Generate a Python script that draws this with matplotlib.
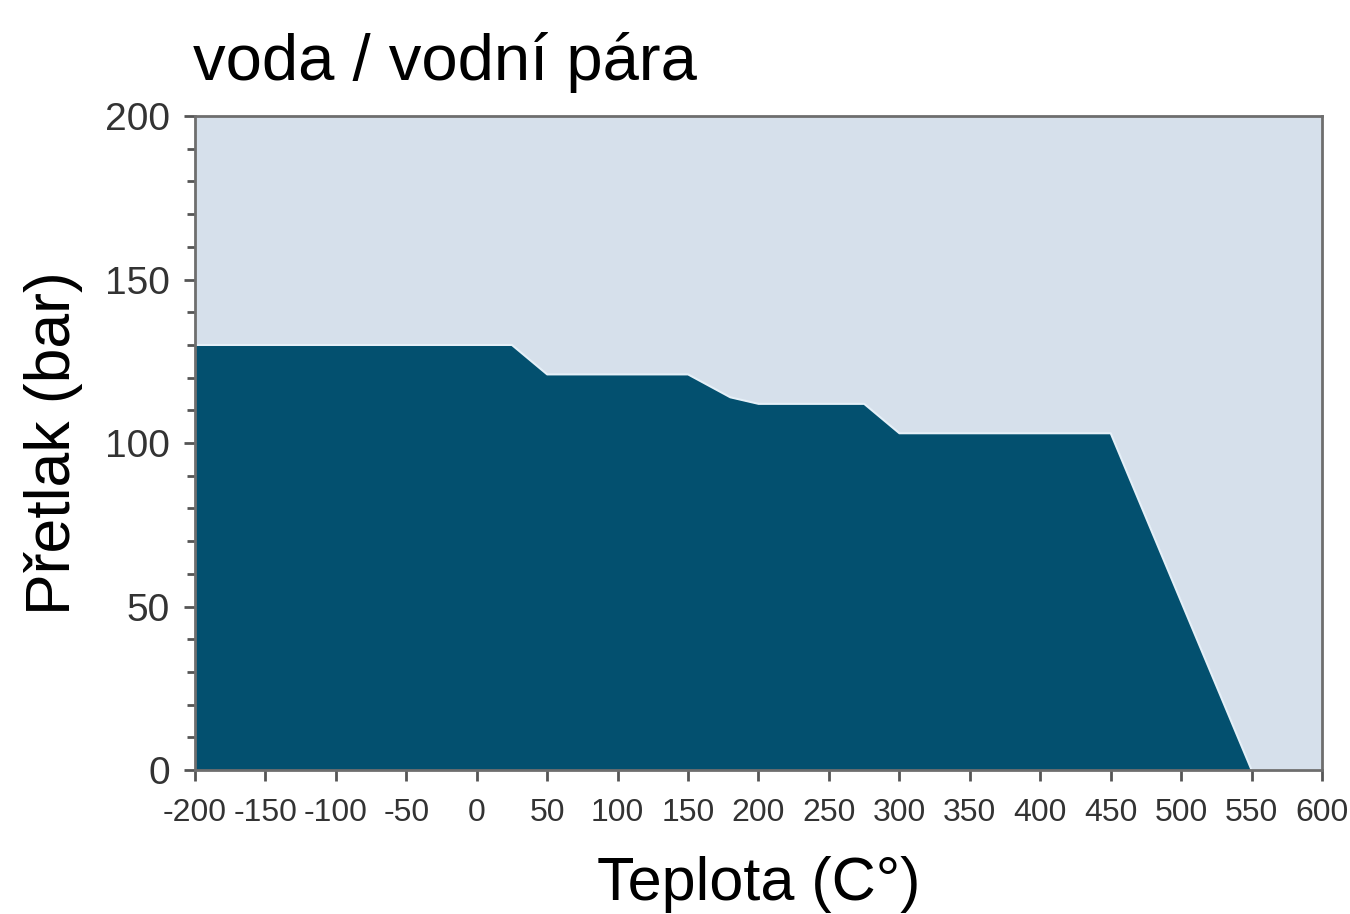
import numpy as np
import matplotlib.pyplot as plt
from matplotlib.ticker import MultipleLocator

# --- Datos ---
teplota = [-200, 25, 50, 150, 180, 200, 275, 300, 450, 550, 600]
pretlak = [130, 130, 121, 121, 114, 112, 112, 103, 103, 0, 0]
x_ticks = list(range(-200, 601, 50))
x_labels = ['-200', '-150', '-100', '-50'] + [str(t) for t in range(0, 601, 50)]
y_ticks = [0, 50, 100, 150, 200]

tmave = '#03506f'
svetle = '#d6e0eb'

fig = plt.figure(figsize=(13.5, 9.14), dpi=100)
ax = fig.add_axes([0.1444, 0.1575, 0.9793 - 0.1444, 0.873 - 0.1575])
ax.set_facecolor(svetle)

ax.fill_between(teplota, pretlak, 0, color=tmave, lw=0)
ax.plot(teplota, pretlak, color='#e6f0f8', lw=1.5)

ax.set_xlim(-200, 600)
ax.set_ylim(0, 200)
ax.set_xticks(x_ticks)
ax.set_xticklabels(x_labels, family='Liberation Sans', fontsize=23)
ax.set_yticks(y_ticks)
ax.set_yticklabels([str(v) for v in y_ticks], family='Liberation Sans', fontsize=28)
ax.yaxis.set_minor_locator(MultipleLocator(10))

for s in ax.spines.values():
    s.set_color('#6e6e6e')
    s.set_linewidth(2)

ax.tick_params(axis='both', which='both', direction='out', color='#555555', width=2,
               labelcolor='#333333')
ax.tick_params(axis='both', which='major', length=8)
ax.tick_params(axis='y', which='minor', length=6)
ax.tick_params(axis='y', pad=10)
ax.tick_params(axis='x', pad=12)

ax.set_xlabel('Teplota (C°)', fontsize=44, family='Liberation Sans', labelpad=20)
ax.set_ylabel('Přetlak (bar)', fontsize=45, family='Liberation Sans', labelpad=16)
fig.text(193 / 1350, 1 - 80 / 914, 'voda / vodní pára', fontsize=47,
         family='Liberation Sans', ha='left', va='baseline')

fig.savefig('out.png', dpi=100)
